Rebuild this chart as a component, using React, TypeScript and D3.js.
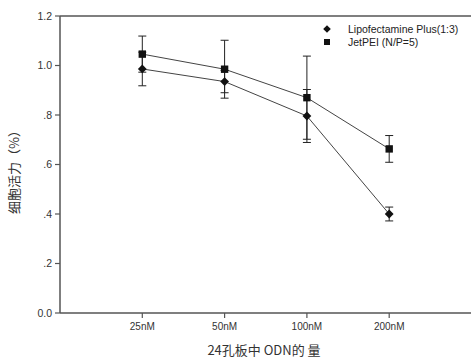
import React from "react";
import * as d3 from "d3";

const categories = ["25nM", "50nM", "100nM", "200nM"];
const lipoValues = [0.986, 0.935, 0.796, 0.4];
const lipoErrors = [0.068, 0.045, 0.107, 0.028];
const peiValues = [1.046, 0.985, 0.87, 0.663];
const peiErrors = [0.073, 0.117, 0.168, 0.054];
const yTicks = [0, 0.2, 0.4, 0.6, 0.8, 1.0, 1.2];
const yTickLabels = ["0.0", ".2", ".4", ".6", ".8", "1.0", "1.2"];
const seriesNames = ["Lipofectamine Plus(1:3)", "JetPEI (N/P=5)"];

const W = 471;
const H = 362;
const left = 60;
const top = 16;
const bottom = 313;
const right = 471.5;

export default function App() {
  const x = d3
    .scalePoint<string>()
    .domain(["", ...categories, " "])
    .range([left, right]);
  const y = d3.scaleLinear().domain([0, 1.2]).range([bottom, top]);
  const line = d3
    .line<number>()
    .x((_, i) => x(categories[i]) as number)
    .y((d) => y(d));
  const font = "Arial, 'Liberation Sans', sans-serif";
  const axisColor = "#555";
  const lineColor = "#444";

  const errBars = (vals: number[], errs: number[], key: string) =>
    vals.map((v, i) => {
      const cx = x(categories[i]) as number;
      const y1 = y(v + errs[i]);
      const y2 = y(v - errs[i]);
      return (
        <g key={key + i} stroke="#222" strokeWidth={1}>
          <line x1={cx} x2={cx} y1={y1} y2={y2} />
          <line x1={cx - 4} x2={cx + 4} y1={y1} y2={y1} />
          <line x1={cx - 4} x2={cx + 4} y1={y2} y2={y2} />
        </g>
      );
    });

  const diamond = (cx: number, cy: number, r: number) =>
    `M${cx},${cy - r}L${cx + r},${cy}L${cx},${cy + r}L${cx - r},${cy}Z`;

  return (
    <svg
      width={W}
      height={H}
      style={{ position: "absolute", left: 0, top: 0, background: "#fff" }}
    >
      <rect x={0} y={0} width={W} height={H} fill="#fff" />
      {/* frame */}
      <line x1={left} x2={W} y1={top} y2={top} stroke={axisColor} strokeWidth={1.5} />
      <line x1={left} x2={W} y1={bottom} y2={bottom} stroke={axisColor} strokeWidth={1.5} />
      <line x1={left} x2={left} y1={top} y2={bottom} stroke={axisColor} strokeWidth={1.5} />
      {/* y ticks */}
      {yTicks.map((t, i) => (
        <g key={"yt" + i}>
          <line x1={left - 5} x2={left} y1={y(t)} y2={y(t)} stroke={axisColor} strokeWidth={1.2} />
          <text
            x={left - 8}
            y={y(t)}
            dy="0.35em"
            textAnchor="end"
            fontFamily={font}
            fontSize={10.5}
            fill="#333"
          >
            {yTickLabels[i]}
          </text>
        </g>
      ))}
      {/* x ticks */}
      {categories.map((c) => (
        <g key={"xt" + c}>
          <line
            x1={x(c) as number}
            x2={x(c) as number}
            y1={bottom}
            y2={bottom + 5}
            stroke={axisColor}
            strokeWidth={1.2}
          />
          <text
            x={x(c) as number}
            y={bottom + 17}
            textAnchor="middle"
            fontFamily={font}
            fontSize={10}
            fill="#333"
          >
            {c}
          </text>
        </g>
      ))}
      {/* axis titles */}
      <text
        x={264}
        y={355}
        textAnchor="middle"
        fontFamily="'Noto Sans CJK SC', sans-serif"
        fontSize={13}
        fill="#333"
        style={{ whiteSpace: "pre" }}
      >
        {"24孔板中 ODN的 量"}
      </text>
      <text
        transform={`translate(19,169) rotate(-90)`}
        textAnchor="middle"
        fontFamily="'Noto Sans CJK SC', sans-serif"
        fontSize={13}
        fill="#333"
      >
        细胞活力（%）
      </text>
      {/* lines */}
      <path d={line(lipoValues) || ""} fill="none" stroke={lineColor} strokeWidth={1} />
      <path d={line(peiValues) || ""} fill="none" stroke={lineColor} strokeWidth={1} />
      {errBars(lipoValues, lipoErrors, "le")}
      {errBars(peiValues, peiErrors, "pe")}
      {lipoValues.map((v, i) => (
        <path key={"ld" + i} d={diamond(x(categories[i]) as number, y(v), 4.4)} fill="#111" />
      ))}
      {peiValues.map((v, i) => (
        <rect
          key={"pr" + i}
          x={(x(categories[i]) as number) - 3.7}
          y={y(v) - 3.7}
          width={7.4}
          height={7.4}
          fill="#111"
        />
      ))}
      {/* legend */}
      <path d={diamond(327, 29, 3.8)} fill="#111" />
      <rect x={324} y={39} width={6} height={6} fill="#111" />
      <text x={348} y={29} dy="0.35em" fontFamily={font} fontSize={10.5} fill="#222">
        {seriesNames[0]}
      </text>
      <text x={348} y={42} dy="0.35em" fontFamily={font} fontSize={10.5} fill="#222">
        {seriesNames[1]}
      </text>
    </svg>
  );
}
